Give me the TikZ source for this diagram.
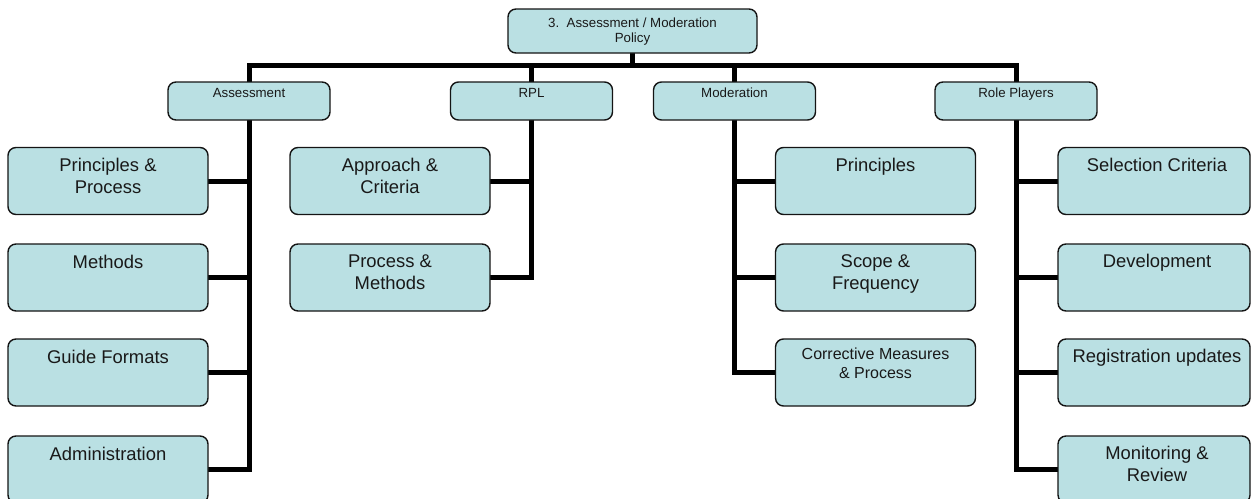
\documentclass[tikz,border=0pt]{standalone}
\usepackage{fontspec}
\setmainfont{Liberation Sans}
\usetikzlibrary{backgrounds}
\definecolor{boxfill}{RGB}{186,224,227}
\definecolor{edge}{RGB}{20,20,20}
\definecolor{ink}{RGB}{25,25,25}
\begin{document}
\begin{tikzpicture}[x=1pt,y=-1pt,
  box/.style={draw=edge, line width=1.4pt, fill=boxfill, rounded corners=8pt, inner sep=0pt, outer sep=0pt},
  head/.style={box, minimum width=162pt, minimum height=38pt},
  leaf/.style={box, minimum width=200pt, minimum height=67pt},
  rleaf/.style={box, minimum width=192pt, minimum height=67pt},
  lbl/.style={anchor=north, inner sep=0pt, outer sep=0pt, align=center, text=ink},
  small/.style={lbl, font=\fontsize{13.3}{14.3}\selectfont},
  mid/.style={lbl, font=\fontsize{16}{19}\selectfont},
  large/.style={lbl, font=\fontsize{18.4}{21.7}\selectfont},
  wire/.style={draw=black, line width=5pt}
]
\path[use as bounding box] (0,0) rectangle (1252,498);
\clip (0,0) rectangle (1252,498);

% root
\node[box, minimum width=249pt, minimum height=44pt] (policy) at (632.5,31) {};
\node[small] (policyT) at ([yshift=-9.3pt]policy.north) {3.\ \ Assessment / Moderation\\Policy};

% second level
\node[head] (assess) at (249,101) {};
\node[small] (assessT) at ([yshift=-6.3pt]assess.north) {Assessment};
\node[head] (rpl) at (531.5,101) {};
\node[small] (rplT) at ([yshift=-6.3pt]rpl.north) {RPL};
\node[head] (moder) at (734.5,101) {};
\node[small] (moderT) at ([yshift=-6.3pt]moder.north) {Moderation};
\node[head] (roles) at (1016,101) {};
\node[small] (rolesT) at ([yshift=-6.3pt]roles.north) {Role Players};

% Assessment column
\node[leaf] (pp) at (108,181) {};
\node[large] (ppT) at ([yshift=-11pt]pp.north) {Principles \&\\Process};
\node[leaf] (meth) at (108,277.5) {};
\node[large] (methT) at ([yshift=-11pt]meth.north) {Methods};
\node[leaf] (guide) at (108,372.5) {};
\node[large] (guideT) at ([yshift=-11pt]guide.north) {Guide Formats};
\node[leaf] (admin) at (108,469.5) {};
\node[large] (adminT) at ([yshift=-11pt]admin.north) {Administration};

% RPL column
\node[leaf] (appr) at (390,181) {};
\node[large] (apprT) at ([yshift=-11pt]appr.north) {Approach \&\\Criteria};
\node[leaf] (procm) at (390,277.5) {};
\node[large] (procmT) at ([yshift=-11pt]procm.north) {Process \&\\Methods};

% Moderation column
\node[leaf] (princ) at (875.5,181) {};
\node[large] (princT) at ([yshift=-10.5pt]princ.north) {Principles};
\node[leaf] (scope) at (875.5,277.5) {};
\node[large] (scopeT) at ([yshift=-10.5pt]scope.north) {Scope \&\\Frequency};
\node[leaf] (corr) at (875.5,372.5) {};
\node[mid] (corrT) at ([yshift=-9.3pt]corr.north) {Corrective Measures\\\& Process};

% Role Players column
\node[rleaf] (sel) at (1154,181) {};
\node[large] (selT) at ([xshift=3pt,yshift=-10.5pt]sel.north) {Selection Criteria};
\node[rleaf] (dev) at (1154,277.5) {};
\node[large] (devT) at ([xshift=3pt,yshift=-10.5pt]dev.north) {Development};
\node[rleaf] (reg) at (1154,372.5) {};
\node[large] (regT) at ([xshift=3pt,yshift=-10.5pt]reg.north) {Registration updates};
\node[rleaf] (mon) at (1154,469.5) {};
\node[large] (monT) at ([xshift=3pt,yshift=-10.5pt]mon.north) {Monitoring \&\\Review};

% connectors behind the boxes
\begin{scope}[on background layer]
  \coordinate (bus) at (632.5,65.5);
  \draw[wire] (policy.south) -- (policy.south |- bus);
  \draw[wire] (assess.north) -- (assess.north |- bus) -- (roles.north |- bus) -- (roles.north);
  \draw[wire] (rpl.north |- bus) -- (rpl.north);
  \draw[wire] (moder.north |- bus) -- (moder.north);

  \draw[wire] (assess.south) -- (assess.south |- admin.east) -- (admin.east);
  \foreach \n in {pp,meth,guide} \draw[wire] (\n.east) -- (\n.east -| assess.south);

  \draw[wire] (rpl.south) -- (rpl.south |- procm.east) -- (procm.east);
  \draw[wire] (appr.east) -- (appr.east -| rpl.south);

  \draw[wire] (moder.south) -- (moder.south |- corr.west) -- (corr.west);
  \foreach \n in {princ,scope} \draw[wire] (\n.west) -- (\n.west -| moder.south);

  \draw[wire] (roles.south) -- (roles.south |- mon.west) -- (mon.west);
  \foreach \n in {sel,dev,reg} \draw[wire] (\n.west) -- (\n.west -| roles.south);
\end{scope}
\end{tikzpicture}
\end{document}
